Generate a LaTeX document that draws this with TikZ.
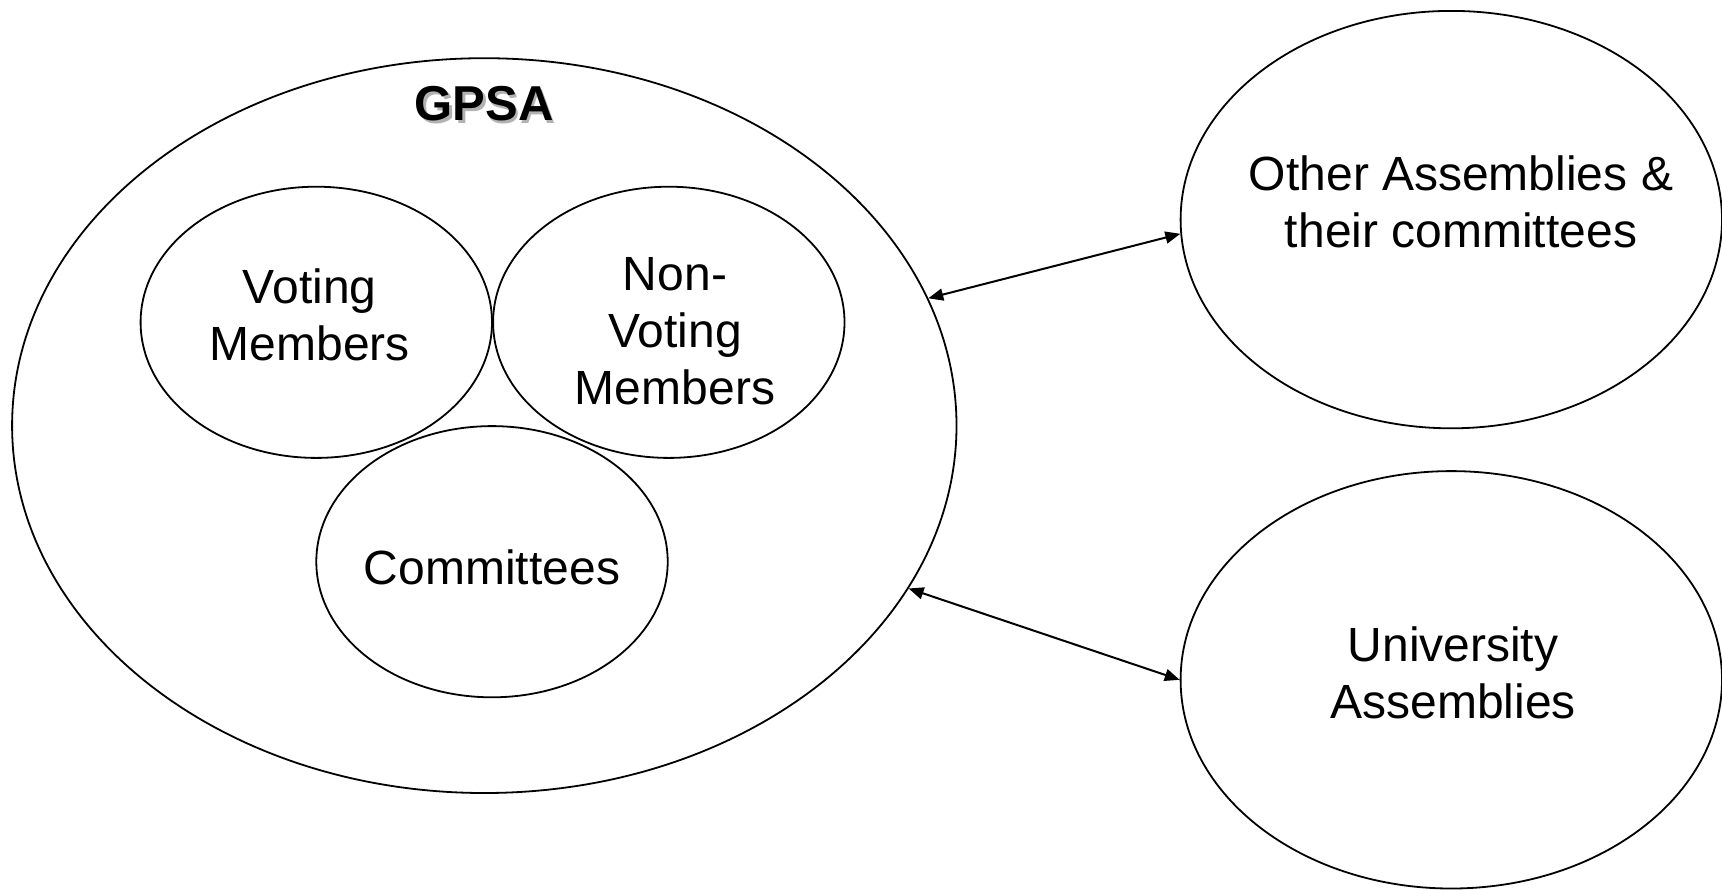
\documentclass[tikz,border=0pt]{standalone}
\usepackage{fontspec}
\setmainfont{Liberation Sans}
\usetikzlibrary{arrows.meta,shapes.geometric}
\tikzset{
	blob/.style={draw, ellipse, line width=0.9pt, inner sep=0pt},
	small blob/.style={blob, minimum width=175.7pt, minimum height=135.6pt},
	big blob/.style={blob, minimum width=270.7pt, minimum height=208.7pt},
	words/.style={align=center, inner sep=0pt, font=\fontsize{24}{28.5}\selectfont},
	title/.style={font=\bfseries\fontsize{24.5}{28}\selectfont},
	link/.style={line width=1pt, {Triangle[length=7.5pt,width=6pt]}-{Triangle[length=7.5pt,width=6pt]}}
}
\begin{document}
\begin{tikzpicture}[x=0.5pt, y=-0.5pt]
			%%%%% START %%%%%
			
			\useasboundingbox (0, 0) rectangle (1722, 889);
			
			\node[blob, minimum width=472.2pt, minimum height=367.4pt] (gpsa) at (484.3, 425.6) {};
			\node[title, text=black!30] (gpsashadow) at (486.5, 106.2) {GPSA};
			\node[title] (gpsatitle) at (484.3, 104) {GPSA};
			
			\node[small blob] (voting) at (316.3, 322.3) {};
			\node[words] (votingtext) at (309.7, 315.2) {Voting\\Members};
			
			\node[small blob] (nonvoting) at (668.8, 322.3) {};
			\node[words] (nonvotingtext) at (675, 331) {Non-\\Voting\\Members};
			
			\node[small blob] (committees) at (492, 561.7) {};
			\node[words] (committeestext) at (492, 567.5) {Committees};
			
			\node[big blob] (other) at (1451.3, 219.6) {};
			\node[words] (othertext) at (1461, 202) {Other Assemblies \&\\their committees};
			
			\node[big blob] (univ) at (1451.3, 679.8) {};
			\node[words] (univtext) at (1453, 673) {University\\Assemblies};
			
			\draw[link] (gpsa.16) -- (other.183);
			\draw[link] (gpsa.-21) -- (univ.180);
			
			%%%%% END %%%%%
\end{tikzpicture}
\end{document}
